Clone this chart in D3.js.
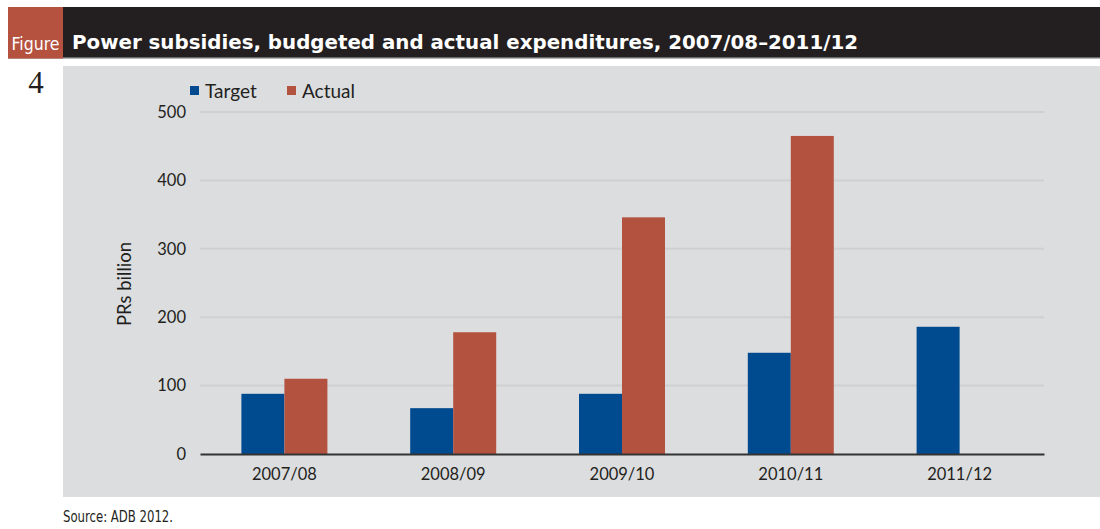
<!DOCTYPE html>
<html>
<head>
<meta charset="utf-8">
<script src="https://cdn.jsdelivr.net/npm/d3@7"></script>
<style>
  html, body { margin: 0; padding: 0; background: #ffffff; }
  svg { display: block; }
</style>
</head>
<body>
<svg id="chart" width="1100" height="529"></svg>
<script>
// Power subsidies, PRs billion
const categories = ["2007/08", "2008/09", "2009/10", "2010/11", "2011/12"];
const seriesNames = ["Target", "Actual"];
const targetValues = [88, 67, 88, 148, 186];
const actualValues = [110, 178, 346, 465, null];
const yTicks = [0, 100, 200, 300, 400, 500];

const colors = { Target: "#004a8f", Actual: "#b3523f" };
const labelFont = "Lato, 'Open Sans', 'DejaVu Sans', sans-serif";

const svg = d3.select("#chart");

// Header band
svg.append("rect").attr("x", 8).attr("y", 7).attr("width", 1092).attr("height", 51).attr("fill", "#231f20");
svg.append("rect").attr("x", 8).attr("y", 57).attr("width", 1092).attr("height", 1.5).attr("fill", "#6a6a6a");
svg.append("rect").attr("x", 8).attr("y", 7).attr("width", 55).attr("height", 51.5).attr("fill", "#b5523f");
svg.append("text")
  .attr("x", 35.5).attr("y", 50)
  .attr("text-anchor", "middle")
  .attr("fill", "#ffffff")
  .style("font-family", "'DejaVu Sans Condensed', 'Liberation Sans Narrow', sans-serif")
  .style("font-stretch", "condensed")
  .style("font-size", "18px")
  .attr("textLength", 48).attr("lengthAdjust", "spacingAndGlyphs")
  .text("Figure");
svg.append("text")
  .attr("x", 72).attr("y", 49)
  .attr("fill", "#ffffff")
  .style("font-family", "'DejaVu Sans', sans-serif")
  .style("font-weight", "bold")
  .style("font-size", "20px")
  .attr("textLength", 786).attr("lengthAdjust", "spacingAndGlyphs")
  .text("Power subsidies, budgeted and actual expenditures, 2007/08\u20132011/12");

// Figure number
svg.append("text")
  .attr("x", 36).attr("y", 93)
  .attr("text-anchor", "middle")
  .attr("fill", "#231f20")
  .style("font-family", "'Liberation Serif', 'DejaVu Serif', serif")
  .style("font-size", "31px")
  .text("4");

// Chart panel
svg.append("rect").attr("x", 63).attr("y", 66).attr("width", 1037).attr("height", 431).attr("fill", "#dcdddf");

const margin = { left: 200, right: 1044, top: 112, bottom: 454 };

const x0 = d3.scaleBand().domain(categories).range([margin.left, margin.right]).paddingInner(0).paddingOuter(0);
const x1 = d3.scaleBand().domain(seriesNames).range([0, 86]);
const y = d3.scaleLinear().domain([0, 500]).range([margin.bottom, margin.top]);

// Gridlines
svg.append("g")
  .selectAll("line")
  .data(yTicks.filter(d => d > 0))
  .join("line")
  .attr("x1", margin.left).attr("x2", margin.right)
  .attr("y1", d => y(d)).attr("y2", d => y(d))
  .attr("stroke", "#cfd0d2").attr("stroke-width", 2);

// Y axis labels
const yAxis = d3.axisLeft(y).tickValues(yTicks).tickSize(0).tickPadding(14);
const gy = svg.append("g").attr("transform", `translate(${margin.left},0)`).call(yAxis);
gy.select(".domain").remove();
gy.selectAll("text")
  .attr("fill", "#231f20")
  .style("font-family", labelFont)
  .style("font-size", "16.5px");

// Y axis title
svg.append("text")
  .attr("transform", "translate(131,284) rotate(-90)")
  .attr("text-anchor", "middle")
  .attr("fill", "#231f20")
  .style("font-family", labelFont)
  .style("font-size", "18.5px")
  .text("PRs billion");

// Bars
const rows = categories.map((c, i) => ({ cat: c, Target: targetValues[i], Actual: actualValues[i] }));
const groups = svg.append("g")
  .selectAll("g")
  .data(rows)
  .join("g")
  .attr("transform", d => `translate(${x0(d.cat) + x0.bandwidth() / 2 - 43},0)`);

groups.selectAll("rect")
  .data(d => seriesNames.filter(s => d[s] != null).map(s => ({ key: s, value: d[s] })))
  .join("rect")
  .attr("x", d => x1(d.key))
  .attr("width", x1.bandwidth())
  .attr("y", d => y(d.value))
  .attr("height", d => y(0) - y(d.value))
  .attr("fill", d => colors[d.key]);

// X axis
const xAxis = d3.axisBottom(x0).tickSize(0).tickPadding(14);
const gx = svg.append("g").attr("transform", `translate(0,${margin.bottom})`).call(xAxis);
gx.select(".domain").attr("stroke", "#333333").attr("stroke-width", 2.2);
gx.selectAll("text")
  .attr("fill", "#231f20")
  .style("font-family", labelFont)
  .style("font-size", "16.5px");

// Legend
const legend = svg.append("g").attr("transform", "translate(190,0)");
const legendX = [0, 97];
seriesNames.forEach((s, i) => {
  legend.append("rect")
    .attr("x", legendX[i]).attr("y", 86)
    .attr("width", 9).attr("height", 9)
    .attr("fill", colors[s]);
  legend.append("text")
    .attr("x", legendX[i] + 15).attr("y", 98)
    .attr("fill", "#231f20")
    .style("font-family", labelFont)
    .style("font-size", "19px")
    .text(s);
});

// Source note
svg.append("text")
  .attr("x", 63).attr("y", 522)
  .attr("fill", "#231f20")
  .style("font-family", "'DejaVu Sans Condensed', 'Liberation Sans Narrow', sans-serif")
  .style("font-stretch", "condensed")
  .style("font-size", "16px")
  .attr("textLength", 110).attr("lengthAdjust", "spacingAndGlyphs")
  .text("Source: ADB 2012.");
</script>
</body>
</html>
